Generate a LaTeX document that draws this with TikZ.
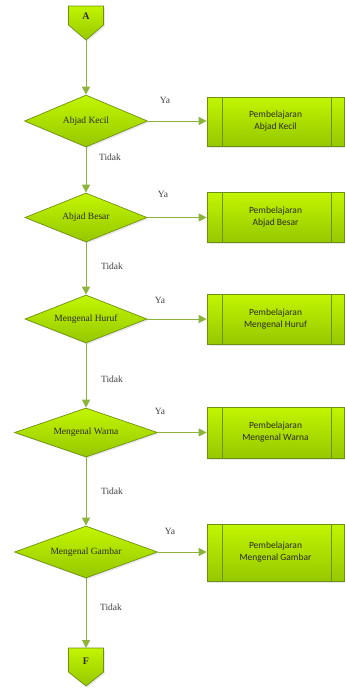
\documentclass[tikz,border=0pt]{standalone}
\usepackage{fontspec}
\setmainfont{Liberation Serif}
\newfontfamily\boxfont{Carlito}
\usetikzlibrary{shapes.geometric,arrows.meta,shadows}
\definecolor{lineg}{HTML}{8CB43C}
\definecolor{edgeg}{HTML}{6E9010}
\definecolor{filltop}{HTML}{C2F500}
\definecolor{fillbot}{HTML}{96C800}
\definecolor{txt}{HTML}{2B2B10}
\begin{document}
\begin{tikzpicture}[x=1pt,y=-1pt,
  shade/.style={draw=edgeg, line width=0.7pt, top color=filltop, bottom color=fillbot,
    drop shadow={opacity=0.18, shadow xshift=1.5pt, shadow yshift=-1.5pt}},
  decision/.style={shade, diamond, aspect=3, inner sep=0pt, font=\rmfamily\fontsize{9.5}{11}\selectfont, text=txt},
  process/.style={shade, rectangle, minimum width=137pt, inner sep=0pt, align=center,
    font=\boxfont\fontsize{9.5}{12}\selectfont, text=txt,
    path picture={\draw[edgeg, line width=0.7pt]
      ([xshift=15pt]path picture bounding box.north west) -- ([xshift=15pt]path picture bounding box.south west)
      ([xshift=-13pt]path picture bounding box.north east) -- ([xshift=-13pt]path picture bounding box.south east);}},
  offpage/.style={shade},
  flow/.style={draw=lineg, line width=1pt, -{Triangle[length=8pt,width=8pt]}},
  lbl/.style={font=\rmfamily\fontsize{9.5}{11}\selectfont, text=black!75},
  conn/.style={font=\rmfamily\bfseries\fontsize{10}{12}\selectfont, text=txt}
]
\useasboundingbox (0,0) rectangle (345,688);

% off-page connectors
\path[offpage] (68.5,6) -- (103.5,6) -- (103.5,25) -- (86,40) -- (68.5,25) -- cycle;
\node[conn] (A) at (86,16) {A};
\coordinate (Atip) at (86,40);

\path[offpage] (68.5,648) -- (103.5,648) -- (103.5,672) -- (86,686) -- (68.5,672) -- cycle;
\node[conn] (F) at (86,661) {F};
\coordinate (Ftop) at (86,648);

% decisions
\node[decision, minimum width=123pt, minimum height=52pt] (d1) at (86,121) {Abjad Kecil};
\node[decision, minimum width=122pt, minimum height=49pt] (d2) at (86,217.5) {Abjad Besar};
\node[decision, minimum width=122pt, minimum height=48pt] (d3) at (86,319) {Mengenal Huruf};
\node[decision, minimum width=143pt, minimum height=49pt] (d4) at (86,432.5) {Mengenal Warna};
\node[decision, minimum width=143pt, minimum height=52pt] (d5) at (86,552) {Mengenal Gambar};

% processes
\node[process, minimum height=49pt] (p1) at (275.5,121.5) {Pembelajaran\\Abjad Kecil};
\node[process, minimum height=50pt] (p2) at (275.5,217) {Pembelajaran\\Abjad Besar};
\node[process, minimum height=50pt] (p3) at (275.5,319) {Pembelajaran\\Mengenal Huruf};
\node[process, minimum height=51pt] (p4) at (275.5,432.5) {Pembelajaran\\Mengenal Warna};
\node[process, minimum height=57pt] (p5) at (275.5,552.5) {Pembelajaran\\Mengenal Gambar};

% vertical flow
\draw[flow] (Atip) -- (d1.north);
\draw[flow] (d1.south) -- (d2.north);
\draw[flow] (d2.south) -- (d3.north);
\draw[flow] (d3.south) -- (d4.north);
\draw[flow] (d4.south) -- (d5.north);
\draw[flow] (d5.south) -- (Ftop);

% yes branches
\draw[flow] (d1.east) -- (d1.east -| p1.west);
\draw[flow] (d2.east) -- (d2.east -| p2.west);
\draw[flow] (d3.east) -- (d3.east -| p3.west);
\draw[flow] (d4.east) -- (d4.east -| p4.west);
\draw[flow] (d5.east) -- (d5.east -| p5.west);

% labels
\node[lbl] (y1) at (165,100) {Ya};
\node[lbl] (y2) at (163,194) {Ya};
\node[lbl] (y3) at (160,300) {Ya};
\node[lbl] (y4) at (160,411) {Ya};
\node[lbl] (y5) at (170,531) {Ya};
\node[lbl] (t1) at (110,157) {Tidak};
\node[lbl] (t2) at (112,266) {Tidak};
\node[lbl] (t3) at (112,379) {Tidak};
\node[lbl] (t4) at (112,491) {Tidak};
\node[lbl] (t5) at (111,607) {Tidak};
\end{tikzpicture}
\end{document}
